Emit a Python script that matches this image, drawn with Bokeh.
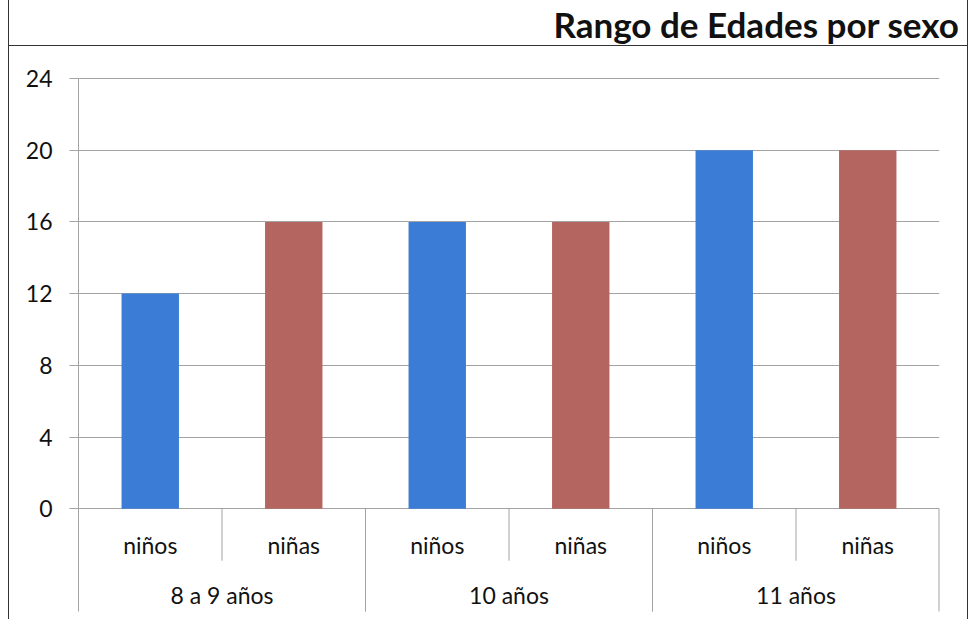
from bokeh.plotting import figure
from bokeh.models import FactorRange, Range1d, FixedTicker, ColumnDataSource, InlineStyleSheet
from bokeh.core.properties import value
from bokeh.embed import file_html
from bokeh.resources import INLINE

# ---- data ----
grupos = ["8 a 9 años", "10 años", "11 años"]
sexos = ["niños", "niñas"]
ninos = [12, 16, 20]
ninas = [16, 16, 20]
y_ticks = [0, 4, 8, 12, 16, 20, 24]
titulo = "Rango de Edades por sexo"

colores = {"niños": "#3b7dd6", "niñas": "#b5655f"}
FONT = "Lato"
GRID = "#a3a3a3"
TXT = "#111111"

factors = [(g, s) for g in grupos for s in sexos]
valores = []
for i in range(len(grupos)):
    valores += [ninos[i], ninas[i]]
fill = [colores[s] for (_, s) in factors]

y_top = 25.84
y_bottom = -6.18
y_line_end = -5.74
y_sub_sep = -2.9
y_sub_lab = -2.0
y_grp_lab = -4.79

# outer chart border and title separator line (pure decoration)
frame_css = InlineStyleSheet(css="""
:host::before {
  content: ""; position: absolute; left: 8px; top: 0px; width: 960px; height: 619px;
  border-left: 1.5px solid #333; border-right: 1.5px solid #333;
  box-sizing: border-box; pointer-events: none; z-index: 10;
}
:host::after {
  content: ""; position: absolute; left: 8px; top: 45px; width: 960px; height: 0px;
  border-top: 1.5px solid #333; pointer-events: none; z-index: 10;
}
""")

p = figure(
    width=970, height=619,
    x_range=FactorRange(*factors, factor_padding=0, group_padding=0, range_padding=0),
    y_range=Range1d(y_bottom, y_top),
    output_backend="svg", toolbar_location=None,
    x_axis_location=None,
    min_border_left=78, min_border_right=31, min_border_bottom=0, min_border_top=44,
    stylesheets=[frame_css],
)
p.outline_line_color = None
p.background_fill_color = "white"
p.border_fill_color = "white"

# title
p.title.text = titulo
p.title.align = "right"
p.title.offset = -20
p.title.text_font = FONT
p.title.text_font_style = "bold"
p.title.text_font_size = "35px"
p.title.text_color = TXT
p.title.standoff = 1

# y axis
ax = p.yaxis[0]
ax.ticker = FixedTicker(ticks=y_ticks)
ax.bounds = (y_line_end, max(y_ticks))
ax.axis_line_color = GRID
ax.major_tick_line_color = GRID
ax.major_tick_out = 9
ax.major_tick_in = 0
ax.minor_tick_line_color = None
ax.major_label_standoff = 17
ax.major_label_text_font = FONT
ax.major_label_text_font_size = "23px"
ax.major_label_text_color = TXT

p.xgrid.visible = False
p.ygrid.ticker = FixedTicker(ticks=y_ticks)
p.ygrid.grid_line_color = GRID
p.ygrid.grid_line_width = 1

# bars
src = ColumnDataSource(dict(x=factors, top=valores, color=fill))
p.vbar(x="x", top="top", bottom=0, width=0.4, fill_color="color", line_color=None, source=src)

# category separators
n = len(factors)
k = len(sexos)
sub_b = [i for i in range(1, n) if i % k != 0]
grp_b = [i for i in range(k, n + 1, k)]
p.segment(x0=sub_b, x1=sub_b, y0=[0] * len(sub_b), y1=[y_sub_sep] * len(sub_b),
          line_color=GRID, line_width=1)
p.segment(x0=grp_b, x1=grp_b, y0=[0] * len(grp_b), y1=[y_line_end] * len(grp_b),
          line_color=GRID, line_width=[1] * (len(grp_b) - 1) + [2])

# labels
p.text(x=factors, y=[y_sub_lab] * n, text=[s for (_, s) in factors],
       text_align="center", text_baseline="middle",
       text_font=value(FONT), text_font_size="23px", text_color=TXT)
p.text(x=grupos, y=[y_grp_lab] * len(grupos), text=grupos,
       text_align="center", text_baseline="middle",
       text_font=value(FONT), text_font_size="23px", text_color=TXT)

open("out.html", "w").write(file_html(p, INLINE))
